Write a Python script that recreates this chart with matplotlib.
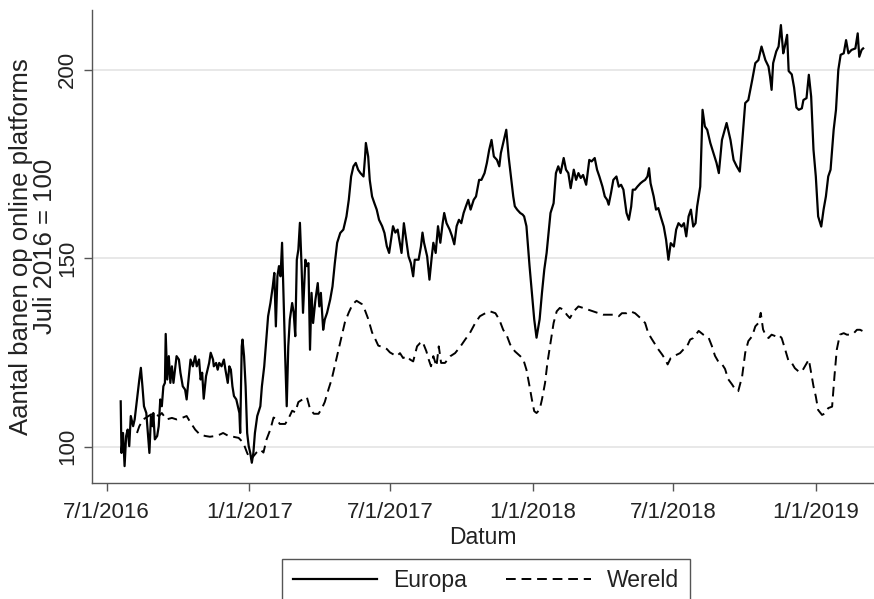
import datetime as dt
import numpy as np
import matplotlib
matplotlib.use("Agg")
import matplotlib.pyplot as plt
import matplotlib.dates as mdates

plt.rcParams['font.family'] = ['Liberation Sans', 'DejaVu Sans']

# dagen sinds 1 juli 2016 en index (juli 2016 = 100)
start = dt.date(2016, 7, 1)

eu_dag = [18, 19, 21, 23, 25, 27, 29, 31, 34, 36, 38, 40, 42, 44, 46, 48, 51, 53, 55, 57,
          59, 60, 62, 65, 67, 69, 71, 73, 75, 76, 78, 80, 82, 84, 86, 88, 90, 93, 95, 98,
          101, 103, 105, 108, 111, 114, 116, 119, 121, 123, 125, 128, 130, 132, 134, 137, 138, 141, 143, 145,
          148, 151, 153, 156, 158, 160, 162, 164, 167, 168, 171, 172, 174, 175, 177, 179, 181, 183, 185, 187,
          189, 191, 194, 198, 200, 203, 205, 208, 211, 214, 216, 218, 220, 222, 224, 226, 228, 230, 232, 234,
          236, 239, 241, 243, 245, 247, 249, 251, 253, 256, 258, 260, 262, 264, 266, 269, 272, 274, 276, 279,
          281, 284, 288, 291, 294, 297, 301, 305, 309, 312, 315, 318, 321, 324, 327, 331, 333, 334, 337, 339,
          342, 345, 348, 351, 355, 358, 361, 364, 369, 372, 375, 377, 380, 383, 386, 389, 392, 395, 397, 402,
          405, 407, 409, 413, 416, 419, 421, 424, 427, 430, 433, 435, 438, 442, 445, 448, 451, 454, 457, 460,
          463, 466, 469, 473, 476, 480, 483, 487, 490, 493, 496, 499, 503, 506, 508, 511, 515, 518, 521, 524,
          526, 529, 533, 536, 538, 541, 545, 548, 551, 554, 558, 561, 564, 567, 572, 576, 579, 582, 585, 589,
          592, 595, 598, 602, 605, 608, 611, 614, 618, 622, 625, 629, 632, 635, 639, 642, 645, 647, 650, 653,
          657, 660, 663, 666, 670, 673, 676, 678, 681, 684, 688, 691, 694, 697, 699, 701, 705, 708, 711, 714,
          718, 721, 724, 727, 731, 734, 737, 741, 744, 747, 750, 753, 756, 759, 761, 765, 768, 771, 774, 778,
          782, 786, 789, 793, 799, 804, 808, 812, 816, 819, 823, 827, 832, 836, 840, 844, 849, 853, 855, 857,
          859, 863, 866, 869, 872, 874, 877, 879, 883, 886, 889, 892, 896, 898, 902, 905, 908, 911, 914, 917,
          921, 924, 927, 930, 933, 937, 940, 943, 946, 950, 953, 956, 960, 965, 968, 970, 973, 975]
europa = [112.0, 98.3, 103.6, 94.8, 102.8, 104.5, 100.1, 108.1, 105.4, 107.2, 110.7, 114.2, 117.8, 120.9, 116.0, 110.7, 108.9, 103.6, 98.3, 108.1,
          105.4, 108.9, 101.9, 102.8, 105.4, 112.5, 110.7, 116.0, 116.9, 129.9, 117.8, 124.0, 116.9, 121.3, 116.9, 120.4, 124.0, 123.1, 119.6, 116.0,
          115.1, 112.5, 116.9, 123.1, 121.3, 124.0, 121.3, 123.1, 117.8, 119.6, 112.7, 118.7, 120.4, 122.2, 124.9, 123.1, 121.3, 122.2, 120.4, 122.2,
          121.3, 123.1, 120.4, 116.9, 121.3, 120.4, 116.0, 113.4, 112.5, 111.6, 108.9, 103.6, 126.6, 128.4, 124.0, 116.0, 103.6, 100.1, 98.3, 95.7,
          98.3, 103.6, 108.1, 110.7, 116.0, 121.3, 126.6, 134.6, 138.1, 142.5, 146.1, 131.9, 145.2, 147.9, 145.2, 154.1, 139.0, 124.0, 110.7, 126.6,
          133.7, 138.1, 135.5, 129.3, 149.6, 152.3, 159.4, 148.7, 135.5, 149.6, 147.9, 148.7, 125.7, 140.8, 132.8, 139.0, 143.4, 137.2, 140.8, 131.0,
          133.7, 135.5, 139.0, 142.5, 148.7, 154.1, 156.7, 157.6, 161.1, 165.5, 171.7, 174.4, 175.3, 173.5, 172.6, 171.7, 177.0, 180.6, 177.0, 170.8,
          166.4, 164.6, 162.9, 160.2, 158.5, 156.7, 153.2, 151.4, 158.5, 156.8, 157.6, 155.0, 151.4, 159.3, 155.0, 150.5, 148.7, 145.2, 149.6, 149.6,
          153.1, 156.8, 154.1, 150.5, 144.3, 150.5, 154.1, 151.4, 158.5, 154.1, 159.3, 162.0, 159.3, 157.6, 155.9, 153.7, 158.5, 160.2, 159.3, 162.0,
          163.8, 165.5, 162.9, 165.5, 166.4, 170.8, 170.8, 172.6, 175.3, 178.8, 181.4, 177.0, 176.1, 174.4, 177.9, 180.6, 184.1, 177.0, 171.7, 166.4,
          163.8, 162.9, 162.0, 161.6, 161.1, 158.5, 147.9, 140.8, 133.8, 128.9, 133.8, 140.8, 147.0, 151.4, 162.0, 164.6, 172.6, 174.4, 172.6, 176.6,
          173.5, 172.6, 168.6, 173.5, 170.8, 172.6, 171.3, 172.1, 169.5, 176.1, 175.7, 176.6, 173.5, 171.7, 169.0, 166.4, 165.5, 164.2, 167.3, 170.8,
          171.7, 169.0, 169.5, 168.2, 162.0, 160.2, 163.7, 168.2, 168.2, 169.0, 169.9, 170.4, 170.8, 171.7, 173.9, 169.9, 166.4, 162.9, 163.3, 161.1,
          158.4, 154.9, 149.6, 154.0, 153.1, 157.6, 159.3, 158.4, 159.3, 155.8, 161.1, 162.9, 158.4, 159.3, 163.7, 169.0, 189.4, 185.0, 184.1, 180.6,
          177.9, 175.3, 172.6, 181.4, 185.9, 181.4, 176.1, 174.4, 173.0, 180.6, 191.2, 192.0, 197.3, 201.8, 202.6, 206.2, 202.6, 200.9, 198.2, 194.7,
          201.8, 204.9, 206.2, 211.9, 204.4, 206.2, 209.3, 199.7, 198.8, 195.3, 190.0, 189.4, 189.8, 192.0, 192.5, 198.7, 192.9, 178.8, 171.7, 161.1,
          158.4, 162.9, 166.4, 171.7, 173.5, 184.1, 189.4, 200.0, 204.0, 204.4, 207.9, 204.4, 205.3, 205.7, 209.7, 203.5, 205.3, 205.7]

we_dag = [39, 42, 47, 54, 60, 67, 71, 77, 84, 90, 97, 103, 107, 114, 120, 127, 133, 140, 146, 150,
          157, 163, 170, 176, 181, 185, 189, 193, 198, 202, 206, 211, 215, 219, 223, 230, 234, 239, 243, 247,
          253, 258, 262, 267, 273, 277, 281, 286, 290, 294, 299, 303, 307, 312, 317, 322, 329, 333, 337, 342,
          346, 350, 356, 361, 365, 370, 374, 378, 382, 387, 391, 395, 400, 404, 407, 412, 415, 418, 421, 425,
          428, 431, 436, 443, 449, 456, 462, 468, 475, 481, 488, 494, 501, 506, 511, 516, 520, 526, 533, 537,
          541, 545, 548, 551, 554, 558, 561, 565, 568, 572, 576, 580, 584, 589, 593, 597, 602, 608, 614, 621,
          627, 634, 640, 647, 653, 660, 664, 670, 675, 681, 688, 694, 698, 703, 707, 711, 716, 720, 723, 727,
          731, 735, 739, 743, 748, 752, 756, 763, 769, 776, 780, 784, 789, 793, 797, 801, 806, 810, 814, 819,
          823, 827, 832, 836, 840, 843, 846, 849, 853, 857, 862, 866, 870, 874, 879, 883, 887, 892, 896, 900,
          905, 908, 911, 914, 917, 922, 926, 930, 935, 938, 941, 945, 950, 954, 958, 963, 967, 971, 975]
wereld = [103.6, 105.4, 107.2, 108.1, 108.9, 108.1, 108.9, 107.2, 107.6, 107.2, 107.6, 108.1, 106.7, 104.5, 103.2, 102.8, 102.6, 102.8, 103.2, 103.6,
          102.8, 102.6, 102.3, 101.0, 98.3, 96.5, 97.4, 98.4, 99.2, 98.4, 101.9, 104.6, 107.7, 107.3, 106.0, 106.0, 107.3, 109.5, 109.1, 111.8,
          112.6, 113.1, 110.0, 108.7, 108.7, 110.0, 111.8, 115.3, 117.9, 121.5, 125.9, 129.4, 133.0, 135.6, 137.8, 138.7, 137.8, 136.1, 133.9, 130.3,
          128.6, 126.8, 126.4, 125.9, 125.0, 124.4, 124.0, 124.8, 123.5, 124.0, 123.1, 122.6, 126.6, 127.5, 127.9, 125.3, 123.1, 121.3, 124.0, 121.3,
          126.6, 122.2, 122.2, 124.0, 124.8, 126.6, 128.4, 130.1, 132.8, 134.6, 135.4, 135.9, 135.4, 133.7, 131.0, 129.3, 127.1, 125.3, 124.0, 123.1,
          120.4, 116.0, 112.5, 109.4, 108.9, 109.8, 112.5, 116.9, 122.2, 127.5, 132.8, 135.9, 136.8, 136.3, 135.0, 134.1, 135.9, 137.2, 136.8, 136.3,
          135.9, 135.4, 135.0, 135.0, 135.0, 134.6, 135.4, 135.4, 135.9, 135.4, 134.1, 132.8, 130.1, 128.4, 127.1, 125.8, 124.4, 123.1, 121.8, 123.5,
          124.0, 124.4, 124.8, 125.7, 126.6, 128.4, 128.8, 130.7, 129.7, 128.8, 126.7, 124.1, 122.3, 121.9, 120.6, 117.9, 116.5, 115.2, 114.7, 118.6,
          124.9, 128.0, 129.3, 131.9, 132.8, 135.5, 131.1, 129.7, 128.8, 129.7, 129.3, 129.7, 128.8, 126.1, 122.6, 122.2, 120.8, 119.9, 119.9, 121.3,
          123.1, 119.5, 116.0, 113.3, 109.7, 108.4, 108.8, 110.2, 110.6, 118.6, 125.7, 129.7, 130.1, 129.7, 129.7, 130.1, 131.0, 131.0, 130.6]

tick_data = [dt.date(2016, 7, 1), dt.date(2017, 1, 1), dt.date(2017, 7, 1),
             dt.date(2018, 1, 1), dt.date(2018, 7, 1), dt.date(2019, 1, 1)]
tick_labels = ['7/1/2016', '1/1/2017', '7/1/2017', '1/1/2018', '7/1/2018', '1/1/2019']
y_ticks = [100, 150, 200]

eu_x = [start + dt.timedelta(days=d) for d in eu_dag]
we_x = [start + dt.timedelta(days=d) for d in we_dag]

fig = plt.figure(figsize=(8.74, 5.99), dpi=100)
ax = fig.add_axes([92 / 874, 1 - 482.7 / 599, 1 - 92 / 874, (482.7 - 10) / 599])

for y in y_ticks:
    ax.axhline(y, color='#e6e6e6', lw=1.3, zorder=0)

ax.plot(eu_x, europa, color='black', lw=1.6, label='Europa')
ax.plot(we_x, wereld, color='black', lw=1.4, linestyle=(0, (5, 3)), label='Wereld')

ax.set_xlim(start - dt.timedelta(days=19), start + dt.timedelta(days=989))
ax.set_ylim(90.4, 215.9)

ax.set_xticks(tick_data)
ax.set_xticklabels(tick_labels)
ax.set_yticks(y_ticks)
ax.set_yticklabels([str(v) for v in y_ticks], rotation=90, va='center')

for s in ['top', 'right']:
    ax.spines[s].set_visible(False)
for s in ['left', 'bottom']:
    ax.spines[s].set_color('#555555')
    ax.spines[s].set_linewidth(1.0)

ax.tick_params(axis='both', colors='#555555', labelcolor='#222222',
               labelsize=16, length=6, width=1.0)
ax.tick_params(axis='x', pad=8)
ax.tick_params(axis='y', pad=4)

ax.set_xlabel('Datum', fontsize=16.5, color='#222222', labelpad=2)
ax.set_ylabel('Aantal banen op online platforms\nJuli 2016 = 100', fontsize=18.5,
              color='#222222', labelpad=0, linespacing=1.0)

leg = fig.legend(loc='upper center', bbox_to_anchor=(486 / 874, 1 - 559 / 599),
                 borderaxespad=0, ncol=2, fontsize=16.5, frameon=True, fancybox=False,
                 edgecolor='#555555', framealpha=1, handlelength=3.7,
                 handletextpad=0.7, columnspacing=1.7, borderpad=0.45)
leg.get_frame().set_linewidth(1.0)
for t in leg.get_texts():
    t.set_color('#222222')

fig.savefig('out.png', dpi=100)
